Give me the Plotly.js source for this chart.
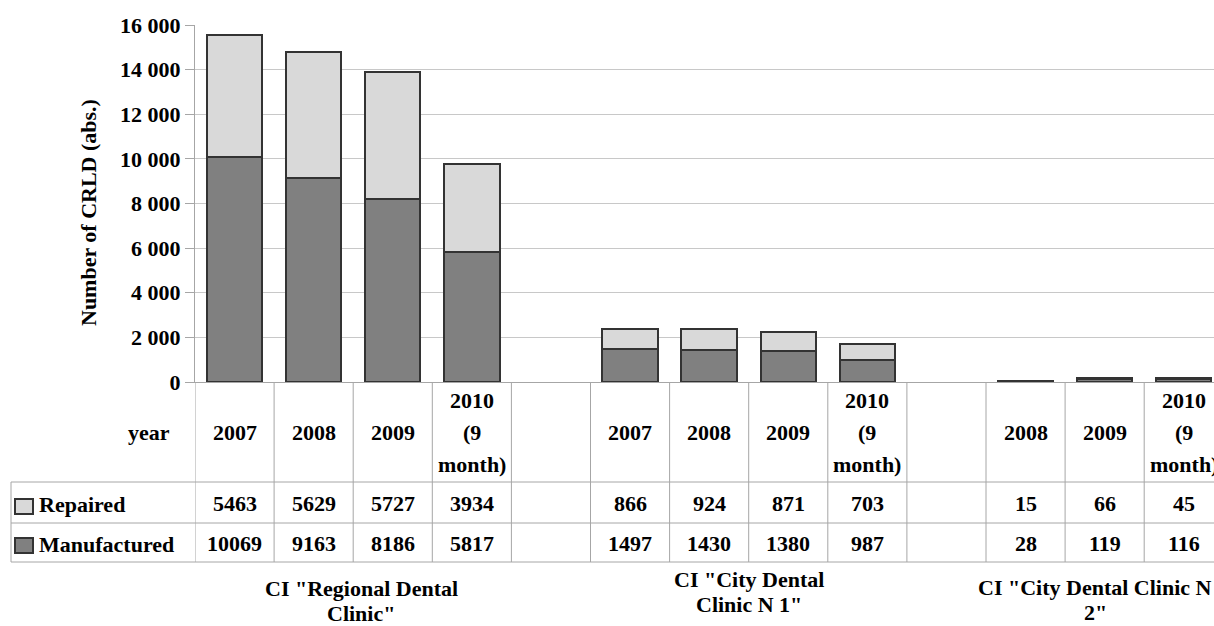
<!DOCTYPE html>
<html>
<head>
<meta charset="utf-8">
<script src="https://cdn.plot.ly/plotly-3.0.1.min.js"></script>
<style>html,body{margin:0;padding:0;background:#fff;}#chart{width:1214px;height:626px;}</style>
</head>
<body>
<div id="chart"></div>
<script>
// ---- data ----
const yearLabels = ['2007','2008','2009','2010|(9|month)','', '2007','2008','2009','2010|(9|month)','', '2008','2009','2010|(9|month)'];
const repaired = [5463, 5629, 5727, 3934, null, 866, 924, 871, 703, null, 15, 66, 45];
const manufactured = [10069, 9163, 8186, 5817, null, 1497, 1430, 1380, 987, null, 28, 119, 116];
const groupNames = ['CI "Regional Dental|Clinic"', 'CI "City Dental|Clinic N 1"', 'CI "City Dental Clinic N|2"'];
const seriesNames = ['Repaired', 'Manufactured'];
const yTitle = 'Number of CRLD (abs.)';
const rowHeader = 'year';

// ---- layout helpers ----
const W = 1214, H = 626, L = 195, R = 0, T = 25, B = 244;
const pw = W - L - R, ph = H - T - B;
const yp = py => (H - B - py) / ph;
const xp = px => (px - L) / pw;
const FONT = {family: 'Liberation Serif', size: 22, color: '#000', weight: 'bold'};
const GRID = '#c8c8c8', TABLE = '#a6a6a6';

const xs = repaired.map((_, i) => i);

const traces = [
  {type: 'bar', name: seriesNames[1], x: xs, y: manufactured, width: 0.7,
   marker: {color: '#808080', line: {color: '#333333', width: 2}}, hoverinfo: 'skip'},
  {type: 'bar', name: seriesNames[0], x: xs, y: repaired, width: 0.7,
   marker: {color: '#d9d9d9', line: {color: '#333333', width: 2}}, hoverinfo: 'skip'}
];

const annotations = [];
const shapes = [];
function addLines(text, xref, x, cy, spacing, xanchor) {
  const lines = text.split('|');
  const n = lines.length;
  lines.forEach((t, k) => {
    annotations.push({text: t, xref: xref, x: x, yref: 'paper', y: yp(cy + (k - (n - 1) / 2) * spacing),
      xanchor: xanchor || 'center', yanchor: 'middle', showarrow: false, font: FONT});
  });
}

// table cells
xs.forEach(i => {
  if (yearLabels[i]) addLines(yearLabels[i], 'x', i, 432, 32);
  if (repaired[i] != null) addLines(String(repaired[i]), 'x', i, 503.5, 0);
  if (manufactured[i] != null) addLines(String(manufactured[i]), 'x', i, 543, 0);
});
// row headers
addLines(rowHeader, 'paper', xp(172), 432, 0, 'right');
addLines(seriesNames[0], 'paper', xp(37), 504, 0, 'left');
addLines(seriesNames[1], 'paper', xp(37), 544, 0, 'left');
// group labels
const groupPos = [[361, 601], [749, 591.5], [1095, 600]];
groupNames.forEach((g, j) => addLines(g, 'paper', xp(groupPos[j][0]), groupPos[j][1], 25));
// y-axis title
annotations.push({text: yTitle, xref: 'paper', x: xp(88), yref: 'paper', y: yp(213), textangle: -90,
  showarrow: false, xanchor: 'center', yanchor: 'middle', font: FONT});

// legend keys
shapes.push({type: 'rect', xref: 'paper', yref: 'paper', x0: xp(15), x1: xp(33), y0: yp(499), y1: yp(514),
  fillcolor: '#d9d9d9', line: {color: '#333', width: 2}});
shapes.push({type: 'rect', xref: 'paper', yref: 'paper', x0: xp(15), x1: xp(33), y0: yp(538), y1: yp(553),
  fillcolor: '#808080', line: {color: '#333', width: 2}});

// table grid: vertical lines
for (let i = 0; i <= 12; i++) {
  shapes.push({type: 'line', xref: 'x', yref: 'paper', x0: i - 0.5, x1: i - 0.5, y0: yp(382), y1: yp(562),
    line: {color: TABLE, width: 1}, layer: 'above'});
}
// horizontal lines
[482, 523, 562].forEach(py => shapes.push({type: 'line', xref: 'paper', yref: 'paper', x0: xp(11), x1: 1.02,
  y0: yp(py), y1: yp(py), line: {color: TABLE, width: 1}}));
// left border
shapes.push({type: 'line', xref: 'paper', yref: 'paper', x0: xp(11), x1: xp(11), y0: yp(482), y1: yp(562),
  line: {color: TABLE, width: 1}});

const layout = {
  width: W, height: H,
  margin: {l: L, r: R, t: T, b: B, pad: 0},
  paper_bgcolor: '#fff', plot_bgcolor: '#fff',
  font: FONT,
  barmode: 'stack',
  showlegend: false,
  separators: '. ',
  xaxis: {range: [-0.5, -0.5 + pw / 79.1], showticklabels: false, ticks: '', showgrid: false, zeroline: false,
    showline: true, linecolor: TABLE, linewidth: 1, fixedrange: true},
  yaxis: {range: [0, 16000], dtick: 2000, tick0: 0, tickformat: ',d', separatethousands: true, showgrid: true,
    gridcolor: GRID, gridwidth: 1, zeroline: false, showline: true, linecolor: TABLE, linewidth: 1,
    ticks: 'outside', ticklen: 9, tickcolor: TABLE, tickfont: FONT, fixedrange: true},
  annotations: annotations,
  shapes: shapes
};

Plotly.newPlot('chart', traces, layout, {staticPlot: true, displayModeBar: false});
</script>
</body>
</html>
